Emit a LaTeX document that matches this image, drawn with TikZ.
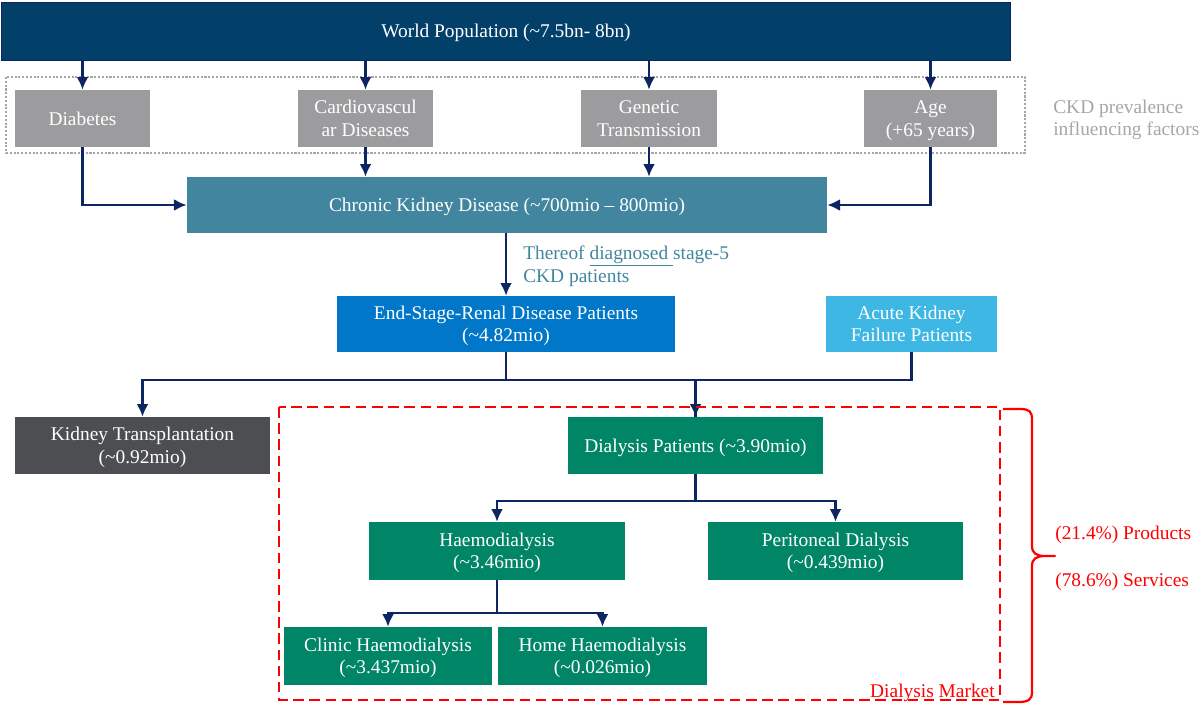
\documentclass[tikz,border=0pt]{standalone}
\usepackage{fontspec}
\setmainfont{Liberation Serif}
\usetikzlibrary{arrows.meta}
\definecolor{worldblue}{HTML}{02406A}
\definecolor{ckdteal}{HTML}{41869E}
\definecolor{esrdblue}{HTML}{0077C8}
\definecolor{akfblue}{HTML}{3FB7E4}
\definecolor{ktxgrey}{HTML}{4D4E52}
\definecolor{dialgreen}{HTML}{008566}
\definecolor{factorgrey}{HTML}{9C9C9E}
\definecolor{navyline}{HTML}{0D2560}
\definecolor{notegrey}{HTML}{A6A6A6}

\begin{document}
\begin{tikzpicture}[x=0.025cm,y=-0.025cm,>={Latex[length=9pt,width=8.5pt]},
  box/.style={rectangle,inner sep=0pt,align=center,text=white,text depth=0pt,
    font=\fontsize{13.8}{16}\selectfont},
  factor/.style={box,fill=factorgrey,minimum width=3.375cm,minimum height=1.425cm},
  green box/.style={box,fill=dialgreen,minimum height=1.45cm},
  note/.style={anchor=west,align=left,inner sep=0pt,font=\fontsize{13.8}{16}\selectfont},
  link/.style={navyline,line width=1.7pt},
  arr/.style={link,->}]
  \useasboundingbox (0,0) rectangle (1201,705);

  % top level
  \node[box,fill=worldblue,draw=navyline,line width=0.6pt,minimum width=25.2cm,
    minimum height=1.45cm] (world) at (506,31) {World Population (\textasciitilde7.5bn- 8bn)};

  % CKD prevalence influencing factors
  \draw[notegrey,line width=1.2pt,dash pattern=on 1.5pt off 1.2pt] (6,77) rectangle (1025,153);
  \node[factor] (diab)   at (82.5,118.5)  {Diabetes};
  \node[factor] (cardio) at (365.5,118.5) {Cardiovascul\\ar Diseases};
  \node[factor] (genet)  at (649,118.5)   {Genetic\\Transmission};
  \node[factor,minimum width=3.325cm] (age) at (930.5,118.5) {Age\\(+65 years)};
  \node[note,text=notegrey] (factnote) at (1053,120) {CKD prevalence\\influencing factors};

  \draw[arr] (world.south -| diab)   -- (diab.north);
  \draw[arr] (world.south -| cardio) -- (cardio.north);
  \draw[arr] (world.south -| genet)  -- (genet.north);
  \draw[arr] (world.south -| age)    -- (age.north);

  % chronic kidney disease
  \node[box,fill=ckdteal,minimum width=16cm,minimum height=1.4cm] (ckd) at (507,205)
    {Chronic Kidney Disease (\textasciitilde700mio -- 800mio)};
  \draw[arr] (diab.south) |- (ckd.west);
  \draw[arr] (cardio.south) -- (cardio.south |- ckd.north);
  \draw[arr] (genet.south) -- (genet.south |- ckd.north);
  \draw[arr] (age.south) |- (ckd.east);

  \node[note,text=ckdteal] (thereof) at (523,266)
    {Thereof \underline{diagnosed\ }stage-5\\CKD patients};

  % patients
  \node[box,fill=esrdblue,minimum width=8.45cm,minimum height=1.4cm] (esrd) at (506,324)
    {End-Stage-Renal Disease Patients\\(\textasciitilde4.82mio)};
  \node[box,fill=akfblue,minimum width=4.275cm,minimum height=1.4cm] (akf) at (911.5,324)
    {Acute Kidney\\Failure Patients};
  \draw[arr] (esrd.north |- ckd.south) -- (esrd.north);

  \node[box,fill=ktxgrey,minimum width=6.375cm,minimum height=1.425cm] (ktx) at (142.5,445.5)
    {Kidney Transplantation\\(\textasciitilde0.92mio)};
  \node[green box,minimum width=6.375cm,minimum height=1.425cm] (dial) at (695.5,445.5)
    {Dialysis Patients (\textasciitilde3.90mio)};
  \draw[arr] (esrd.south) -- ++(0,28) -| (ktx.north);
  \draw[link] (akf.south) -- ++(0,28) -| (dial.north);
  \draw[arr] (esrd.south) -- ++(0,28) -| (dial.north);

  % dialysis market
  \node[green box,minimum width=6.4cm] (haemo) at (497,551)
    {Haemodialysis\\(\textasciitilde3.46mio)};
  \node[green box,minimum width=6.375cm] (perit) at (835.5,551)
    {Peritoneal Dialysis\\(\textasciitilde0.439mio)};
  \draw[arr] (dial.south) -- ++(0,27) -| (haemo.north);
  \draw[arr] (dial.south) -- ++(0,27) -| (perit.north);

  \node[green box,minimum width=5.2cm] (clinic) at (388,656)
    {Clinic Haemodialysis\\(\textasciitilde3.437mio)};
  \node[green box,minimum width=5.225cm] (home) at (602.5,656)
    {Home Haemodialysis\\(\textasciitilde0.026mio)};
  \draw[arr] (haemo.south) -- ++(0,33) -| (clinic.north);
  \draw[arr] (haemo.south) -- ++(0,33) -| (home.north);

  \draw[red,line width=1.5pt,dash pattern=on 7.5pt off 4pt] (279,407) rectangle (1000,700);
  \node[anchor=base east,text=red,inner sep=0pt,font=\fontsize{13.8}{16}\selectfont]
    (market) at (995,697) {Dialysis Market};

  % market split brace
  \draw[red,line width=1.6pt,line join=round]
    (1003,409) -- (1020,409) .. controls (1030,409) and (1032,412) .. (1032,420)
    -- (1032,546) .. controls (1032,553) and (1036,556) .. (1045,556) -- (1055,556)
    -- (1045,556) .. controls (1036,556) and (1032,559) .. (1032,566)
    -- (1032,692) .. controls (1032,700) and (1028,702) .. (1018,702) -- (1003,702);
  \node[note,text=red] (products) at (1055,535) {(21.4\%) Products};
  \node[note,text=red] (services) at (1055,582) {(78.6\%) Services};
\end{tikzpicture}
\end{document}
